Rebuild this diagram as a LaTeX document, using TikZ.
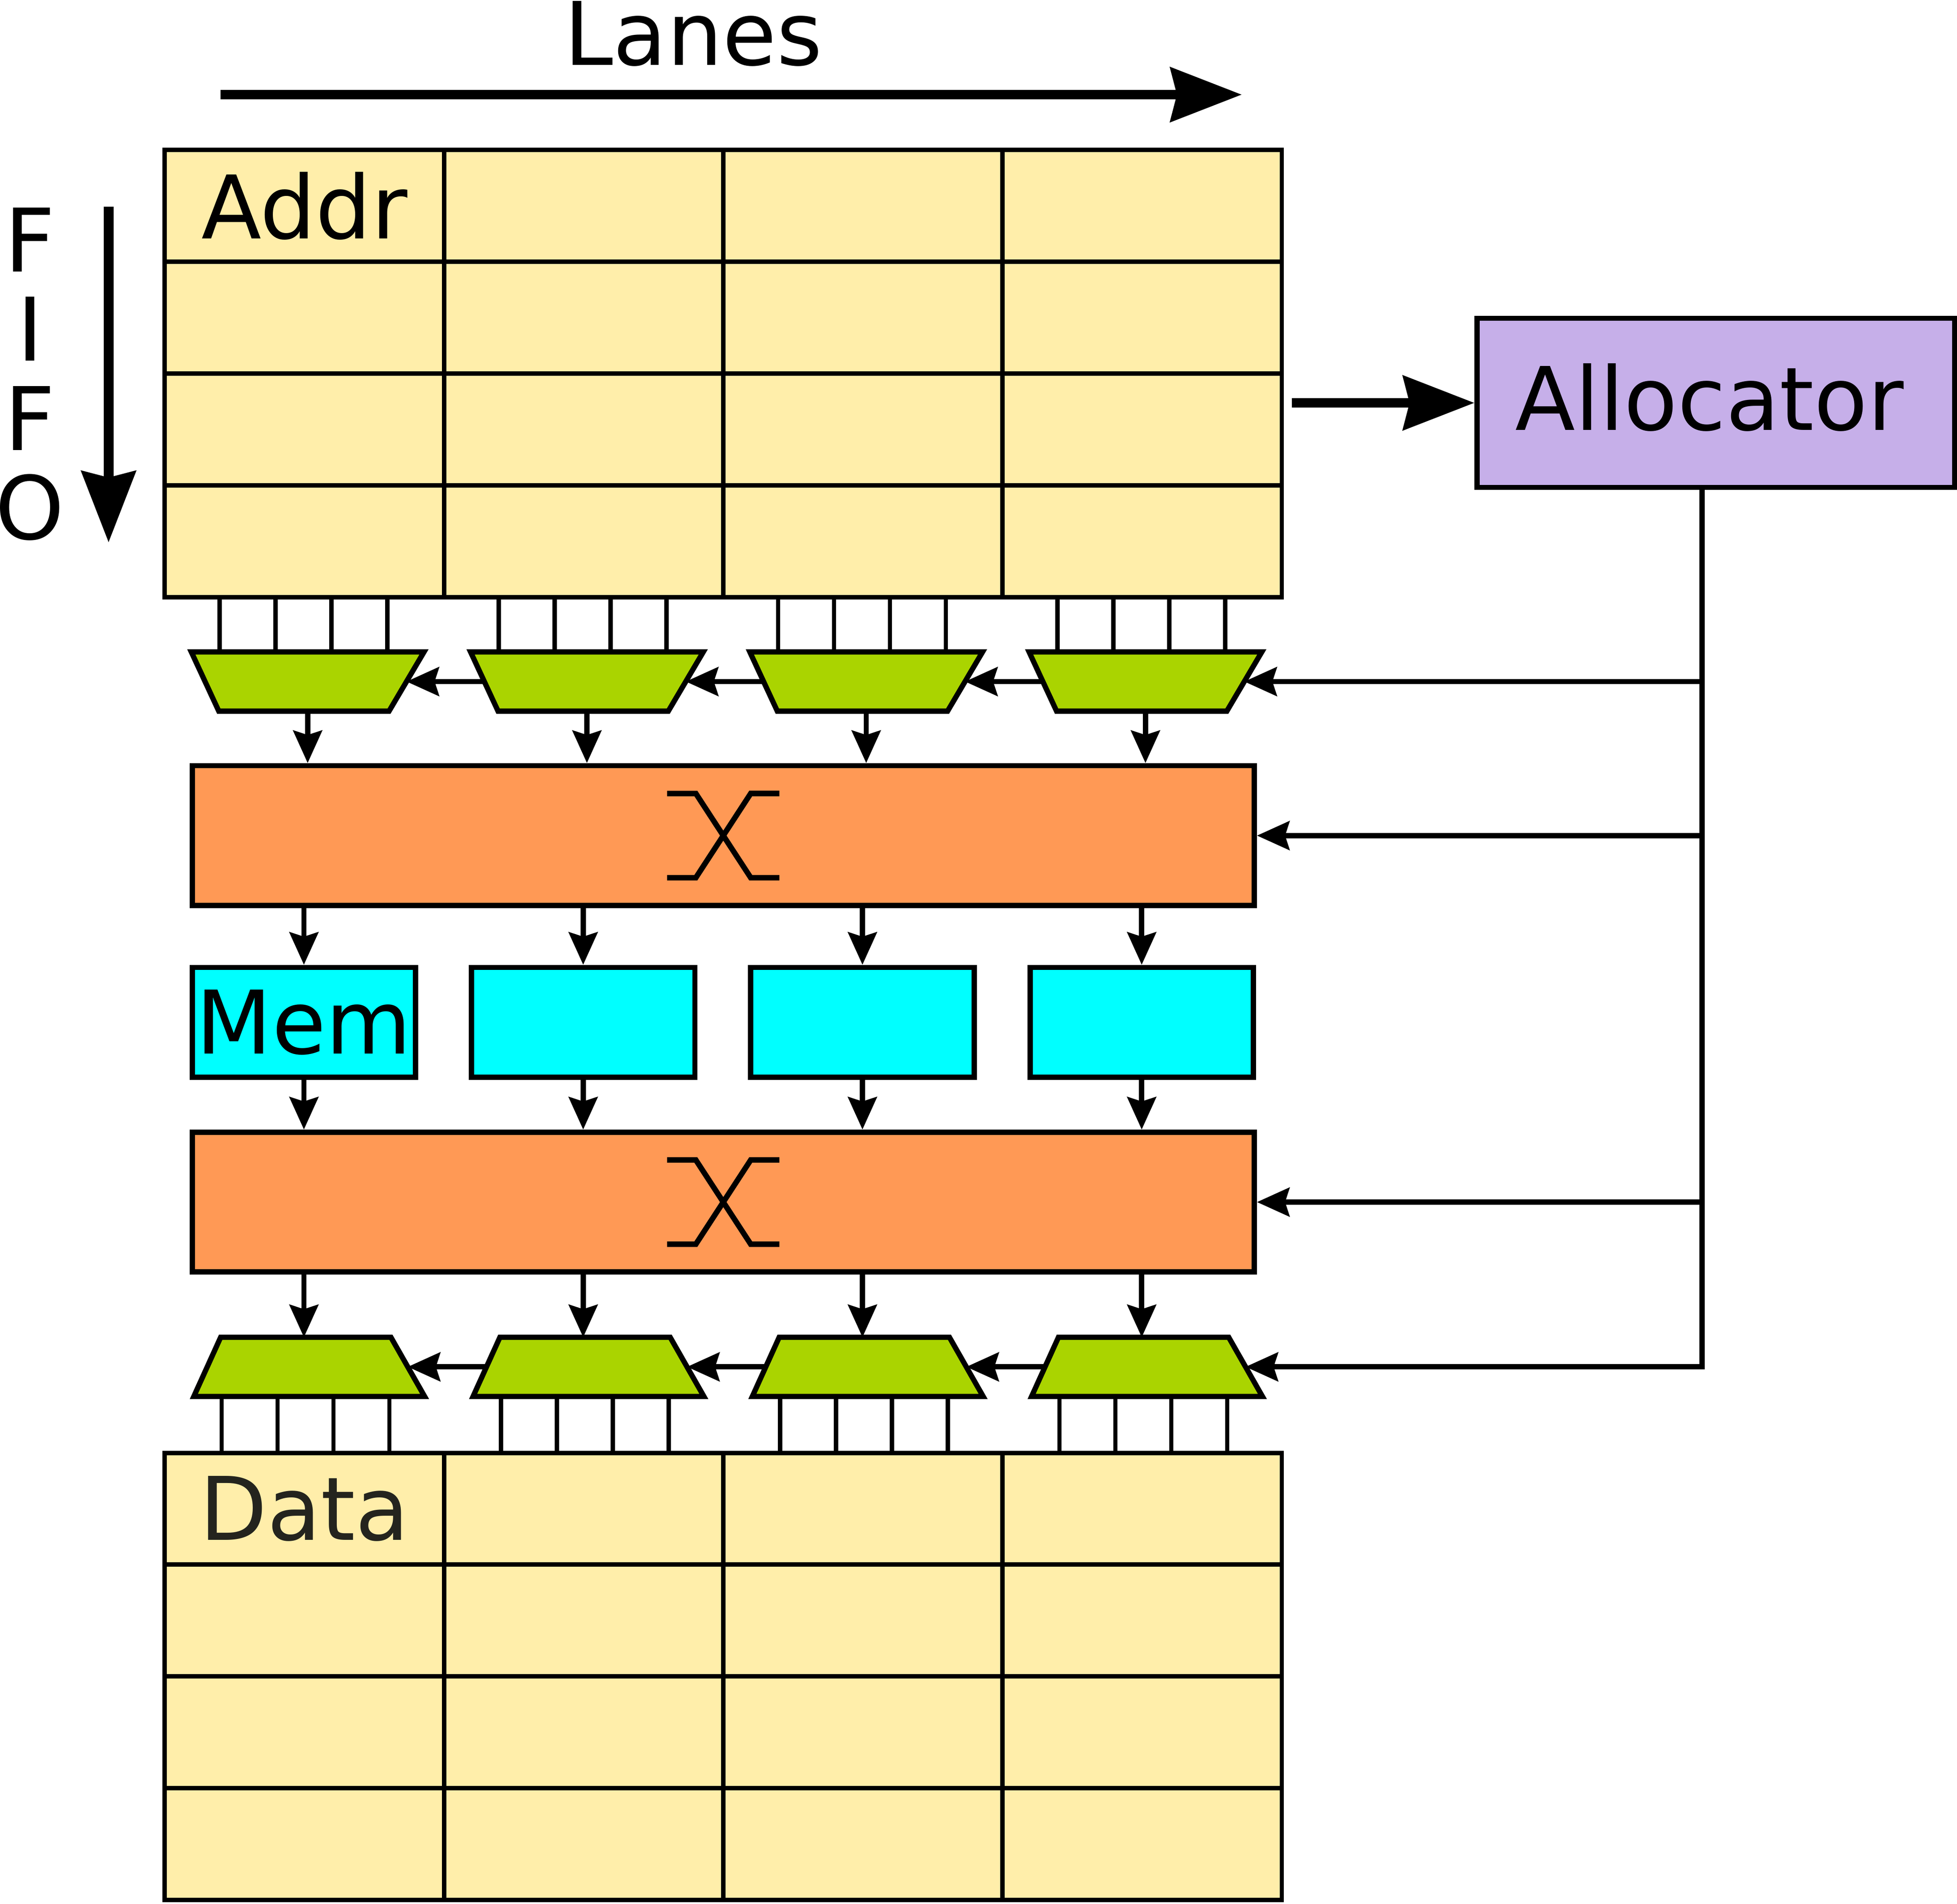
\documentclass[tikz,border=0pt]{standalone}
\usepackage{fontspec}
\setmainfont{DejaVu Sans}
\usetikzlibrary{arrows.meta,positioning,calc}
\definecolor{fifofill}{HTML}{FFEEAA}
\definecolor{muxfill}{HTML}{AAD400}
\definecolor{xbarfill}{HTML}{FF9955}
\definecolor{memfill}{HTML}{00FFFF}
\definecolor{allocfill}{HTML}{C6AFE9}
\definecolor{datatext}{RGB}{36,36,30}

\begin{document}
\begin{tikzpicture}[
  font=\fontsize{20}{24}\selectfont,
  cell/.style={draw,line width=1pt,fill=fifofill,minimum width=2.2375cm,minimum height=0.8963cm,inner sep=0pt},
  box/.style={draw,line width=1.2pt,inner sep=0pt},
  muxbox/.style={inner sep=0pt,minimum height=0.46cm},
  wire/.style={line width=1pt},
  sig/.style={line width=1.2pt},
  sigarrow/.style={line width=1.2pt,-{Stealth[length=2.6mm,width=2.3mm,inset=0.35mm]}},
  bigarrow/.style={line width=2.2pt,-{Stealth[length=5.7mm,width=4.3mm,inset=0.5mm]}}
]
\useasboundingbox (0,0) rectangle (15.68,-15.253);

% direction labels
\node[anchor=base] (lanes) at (5.555,-0.52) {Lanes};
\coordinate (lanesL) at (1.766,-0.758);
\coordinate (lanesR) at (9.95,-0.758);
\draw[bigarrow] (lanesL) -- (lanesR);
\foreach \l [count=\k] in {F,I,F,O}
  \node[anchor=base] (fifo\k) at (0.24,{-2.176-0.715*(\k-1)}) {\l};
\coordinate (fifoT) at (0.87,-1.655);
\coordinate (fifoB) at (0.87,-4.346);
\draw[bigarrow] (fifoT) -- (fifoB);

% address and data fifos
\foreach \r in {0,...,3}
  \foreach \c in {0,...,3} {
    \node[cell] (addr\r\c) at ({1.32+2.2375*(\c+0.5)},{-1.20-0.8963*(\r+0.5)}) {\ifnum\r\c=0 Addr\fi};
    \node[cell] (data\r\c) at ({1.32+2.2375*(\c+0.5)},{-11.64-0.895*(\r+0.5)}) {\ifnum\r\c=0 \textcolor{datatext}{Data}\fi};
  }

% muxes
\foreach \i in {0,...,3} {
  \node[muxbox,minimum width=1.85cm] (mt\i) at ({2.465+2.2375*\i},-5.46) {};
  \draw[sig,fill=muxfill] (mt\i.north west) -- (mt\i.north east) -- ($(mt\i.south east)+(-0.28,0)$) -- ($(mt\i.south west)+(0.22,0)$) -- cycle;
  \coordinate (mtsel\i) at ($(mt\i.east)+(-0.14,0)$);
  \coordinate (mtsrc\i) at ($(mt\i.west)+(0.11,0)$);
  \node[muxbox,minimum width=1.835cm] (mb\i) at ({2.4775+2.2375*\i},-10.95) {};
  \draw[sig,fill=muxfill] ($(mb\i.north west)+(0.215,0)$) -- ($(mb\i.north east)+(-0.27,0)$) -- (mb\i.south east) -- (mb\i.south west) -- cycle;
  \coordinate (mbsel\i) at ($(mb\i.east)+(-0.135,0)$);
  \coordinate (mbsrc\i) at ($(mb\i.west)+(0.1075,0)$);
  \foreach \k in {0,...,3} {
    \coordinate (wt) at ($(mt\i.north west)+({0.226+0.448*\k},0)$);
    \draw[wire] (wt |- addr3\i.south) -- (wt);
    \coordinate (wb) at ($(mb\i.south west)+({0.223+0.448*\k},0)$);
    \draw[wire] (wb) -- (wb |- data0\i.north);
  }
}

% crossbars and memories
\node[box,fill=xbarfill,minimum width=8.51cm,minimum height=1.12cm] (xbar1) at (5.795,-6.694) {};
\node[box,fill=xbarfill,minimum width=8.51cm,minimum height=1.12cm] (xbar2) at (5.795,-9.63) {};
\foreach \x in {xbar1,xbar2} {
  \draw[line width=1.25pt] ($(\x)+(-0.45,0.3375)$) -- ++(0.23,0) -- ++(0.44,-0.675) -- ++(0.23,0);
  \draw[line width=1.25pt] ($(\x)+(-0.45,-0.3375)$) -- ++(0.23,0) -- ++(0.44,0.675) -- ++(0.23,0);
}
\foreach \i in {0,...,3}
  \node[box,fill=memfill,minimum width=1.79cm,minimum height=0.88cm] (mem\i) at ({2.435+2.2375*\i},-8.19) {\ifnum\i=0 Mem\fi};

% allocator
\node[box,fill=allocfill,minimum width=3.825cm,minimum height=1.355cm] (alloc) at (13.7475,-3.2275) {\raisebox{1mm}{Allocator\kern1mm}};
\coordinate (fifoout) at (10.35,-3.2275);
\draw[bigarrow] (fifoout) -- (alloc.west);
\coordinate (ctl) at ($(alloc.south)+(-0.11,0)$);
\draw[sigarrow] (ctl) -- (ctl |- mbsel3) -- (mbsel3);
\draw[sigarrow] (ctl |- mtsel3) -- (mtsel3);
\draw[sigarrow] (ctl |- xbar1.east) -- (xbar1.east);
\draw[sigarrow] (ctl |- xbar2.east) -- (xbar2.east);
\foreach \i/\j in {0/1,1/2,2/3} {
  \draw[sigarrow] (mtsrc\j) -- (mtsel\i);
  \draw[sigarrow] (mbsrc\j) -- (mbsel\i);
}

% lane signals
\foreach \i in {0,...,3} {
  \draw[sigarrow] (mt\i.south) -- (mt\i.south |- xbar1.north);
  \draw[sigarrow] (mem\i |- xbar1.south) -- (mem\i.north);
  \draw[sigarrow] (mem\i.south) -- (mem\i.south |- xbar2.north);
  \draw[sigarrow] (mem\i |- xbar2.south) -- (mem\i |- mb\i.north);
}
\end{tikzpicture}
\end{document}
